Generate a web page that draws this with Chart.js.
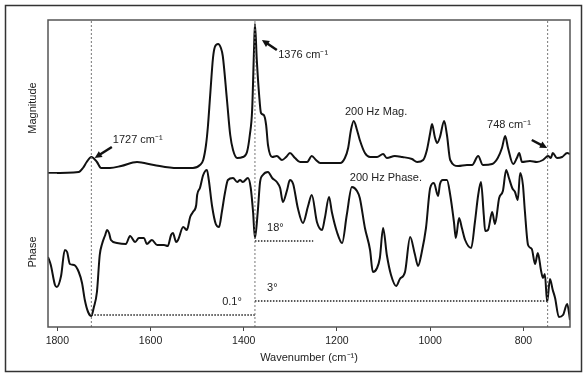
<!DOCTYPE html>
<html>
<head>
<meta charset="utf-8">
<title>200 Hz magnitude and phase spectra</title>
<script src="https://cdn.jsdelivr.net/npm/chart.js@4.4.0/dist/chart.umd.min.js"></script>
<style>
  html, body { margin: 0; padding: 0; background: #fff; }
  #wrap { position: relative; width: 587px; height: 375px; }
</style>
</head>
<body>
<div id="wrap"><canvas id="spectrumChart"></canvas></div>
<script>
// Values (y is in arbitrary units, no scale shown)
const magWavenumbers = [1820,1754,1745,1737,1727,1715,1706,1687,1663,1629,
    1593,1543,1509,1494,1487,1481,1477,1472,1466,1462,
    1455,1449,1445,1436,1429,1423,1414,1402,1393,1387,
    1382,1378,1376,1372,1367,1363,1357,1352,1348,1339,
    1329,1318,1309,1301,1290,1279,1264,1254,1245,1236,
    1193,1183,1176,1170,1164,1157,1151,1140,1129,1114,
    1101,1093,1076,1060,1039,1028,1015,1007,1000,996,
    990,985,979,970,964,957,940,921,910,897,
    887,867,855,846,839,833,822,814,809,803,
    786,771,758,747,741,737,728,717,706,700];
const magValues = [154,155,159,165,170,165,159,159,161,165,
    162,159,159,162,167,182,200,232,269,280,
    283,279,271,227,192,177,169,170,175,192,
    217,277,303,267,232,214,212,202,182,170,
    171,167,170,174,169,165,165,171,167,164,
    164,169,179,197,206,197,187,174,170,170,
    173,169,171,170,168,165,167,177,194,203,
    190,184,190,206,192,167,161,162,162,171,
    162,163,169,179,191,179,163,169,174,165,
    166,165,167,171,169,174,169,170,174,173];

const phaseWavenumbers = [1820,1814,1805,1801,1792,1784,1779,1773,1764,1754,
    1747,1741,1734,1727,1722,1715,1709,1704,1698,1693,
    1689,1685,1672,1653,1644,1633,1625,1614,1608,1597,
    1586,1571,1563,1556,1552,1545,1541,1530,1522,1515,
    1509,1502,1500,1494,1487,1479,1475,1468,1460,1453,
    1447,1440,1434,1423,1414,1408,1402,1391,1385,1380,
    1376,1370,1365,1359,1348,1339,1329,1322,1316,1307,
    1301,1294,1284,1273,1262,1254,1243,1232,1226,1217,
    1211,1200,1189,1179,1168,1157,1151,1140,1129,1123,
    1114,1108,1101,1093,1084,1073,1065,1054,1043,1033,
    1026,1018,1009,1000,992,983,979,973,964,957,
    949,945,938,932,925,912,904,897,891,885,
    882,876,867,861,852,844,837,831,824,818,
    812,807,801,797,790,782,775,769,762,758,
    754,749,743,737,732,724,715,706,700];
const phaseValues = [70,62,42,40,51,77,75,63,62,55,
    44,27,15,11,19,35,72,83,91,97,
    94,87,84,83,91,85,89,89,83,87,
    82,82,81,92,94,85,87,100,97,110,
    115,122,132,139,152,157,147,121,103,100,
    115,135,147,149,145,147,145,149,139,115,
    89,115,145,152,155,149,145,139,125,137,
    147,143,119,104,121,132,105,97,109,130,
    115,95,84,112,140,136,129,99,77,55,
    59,69,99,72,52,41,48,55,90,73,
    61,75,99,139,144,131,143,147,147,132,
    105,89,109,99,87,79,105,132,145,112,
    96,97,115,103,129,136,157,149,139,135,
    127,154,142,117,82,78,63,74,56,49,
    53,25,48,37,29,10,12,23,7];

const xTicks = [1800, 1600, 1400, 1200, 1000, 800];
const markerWavenumbers = [1727, 1376, 748];

// phase levels marked with dotted lines
const levelLabels = ['0.1°', '18°', '3°'];
const levelValues = [12, 86, 26];
const levelFrom = [1727, 1376, 1376];
const levelTo = [1376, 1251, 748];

const yMin = 0, yMax = 307;

function toPoints(xs, ys) {
    return xs.map((x, i) => ({ x: x, y: ys[i] }));
}

const datasets = [];

// Dashed vertical marker lines
markerWavenumbers.forEach(function(wn) {
    datasets.push({
        data: [{ x: wn, y: yMin }, { x: wn, y: yMax }],
        borderColor: '#777',
        borderWidth: 1,
        borderDash: [2, 2],
        pointRadius: 0
    });
});

// Dotted phase level lines
levelValues.forEach(function(v, i) {
    datasets.push({
        data: [{ x: levelFrom[i], y: v }, { x: levelTo[i], y: v }],
        borderColor: '#222',
        borderWidth: 1.5,
        borderDash: [1.5, 1.5],
        pointRadius: 0
    });
});

datasets.push({
    label: '200 Hz Mag.',
    data: toPoints(magWavenumbers, magValues),
    borderColor: '#111',
    borderWidth: 2,
    pointRadius: 0,
    cubicInterpolationMode: 'monotone'
});
datasets.push({
    label: '200 Hz Phase.',
    data: toPoints(phaseWavenumbers, phaseValues),
    borderColor: '#111',
    borderWidth: 2,
    pointRadius: 0,
    cubicInterpolationMode: 'monotone'
});

// Text labels and arrows placed in data coordinates
const notes = [
    { text: '1727 cm⁻¹', x: 1681, y: 187, align: 'left' },
    { text: '1376 cm⁻¹', x: 1326, y: 272, align: 'left' },
    { text: '200 Hz Mag.', x: 1116, y: 215, align: 'center' },
    { text: '200 Hz Phase.', x: 1095, y: 149, align: 'center' },
    { text: '748 cm⁻¹', x: 831, y: 202, align: 'center' },
    { text: levelLabels[1], x: 1350, y: 99, align: 'left' },
    { text: levelLabels[2], x: 1350, y: 39, align: 'left' },
    { text: levelLabels[0], x: 1404, y: 25, align: 'right' }
];
const arrows = [
    { from: [1683, 180], to: [1720, 169] },
    { from: [1329, 277], to: [1361, 287] },
    { from: [782, 187], to: [749, 179] }
];
const axisTitles = [
    { text: 'Magnitude', y: 219 },
    { text: 'Phase', y: 75 }
];

const FONT = '"Liberation Sans", Arial, Helvetica, sans-serif';

const decorPlugin = {
    id: 'decor',
    afterDraw: function(chart) {
        const ctx = chart.ctx;
        const xs = chart.scales.x;
        const ys = chart.scales.y;
        const area = chart.chartArea;
        ctx.save();

        // plot border
        ctx.strokeStyle = '#555';
        ctx.lineWidth = 1.5;
        ctx.strokeRect(area.left, area.top, area.right - area.left, area.bottom - area.top);

        // small inward tick on the left axis
        ctx.lineWidth = 1;
        const ty = Math.round(ys.getPixelForValue(magValues[0])) + 0.5;
        ctx.beginPath();
        ctx.moveTo(area.left, ty);
        ctx.lineTo(area.left + 9, ty);
        ctx.stroke();

        // outer frame
        ctx.strokeStyle = '#333';
        ctx.lineWidth = 1.5;
        ctx.strokeRect(5.5, 5.5, chart.width - 11, chart.height - 9);

        ctx.fillStyle = '#222';
        ctx.textBaseline = 'middle';
        ctx.font = '11px ' + FONT;
        notes.forEach(function(n) {
            ctx.textAlign = n.align;
            ctx.fillText(n.text, xs.getPixelForValue(n.x), ys.getPixelForValue(n.y));
        });

        // arrows
        ctx.fillStyle = '#111';
        ctx.strokeStyle = '#111';
        arrows.forEach(function(a) {
            const x1 = xs.getPixelForValue(a.from[0]), y1 = ys.getPixelForValue(a.from[1]);
            const x2 = xs.getPixelForValue(a.to[0]), y2 = ys.getPixelForValue(a.to[1]);
            const ang = Math.atan2(y2 - y1, x2 - x1);
            const head = 8;
            ctx.lineWidth = 2.5;
            ctx.beginPath();
            ctx.moveTo(x1, y1);
            ctx.lineTo(x2 - Math.cos(ang) * head * 0.8, y2 - Math.sin(ang) * head * 0.8);
            ctx.stroke();
            ctx.beginPath();
            ctx.moveTo(x2, y2);
            ctx.lineTo(x2 - head * Math.cos(ang - 0.45), y2 - head * Math.sin(ang - 0.45));
            ctx.lineTo(x2 - head * Math.cos(ang + 0.45), y2 - head * Math.sin(ang + 0.45));
            ctx.closePath();
            ctx.fill();
        });

        // y titles (two parts of one axis)
        ctx.fillStyle = '#222';
        ctx.textAlign = 'center';
        ctx.font = '11px ' + FONT;
        axisTitles.forEach(function(t) {
            ctx.save();
            ctx.translate(area.left - 15, ys.getPixelForValue(t.y));
            ctx.rotate(-Math.PI / 2);
            ctx.fillText(t.text, 0, 0);
            ctx.restore();
        });
        ctx.restore();
    }
};

new Chart(document.getElementById('spectrumChart').getContext('2d'), {
    type: 'line',
    data: { datasets: datasets },
    options: {
        responsive: true,
        maintainAspectRatio: false,
        animation: false,
        layout: { padding: { left: 48, right: 17, top: 20, bottom: 0 } },
        plugins: {
            legend: { display: false },
            tooltip: { enabled: false }
        },
        scales: {
            x: {
                type: 'linear',
                reverse: true,
                min: 700,
                max: 1820,
                afterBuildTicks: function(scale) {
                    scale.ticks = xTicks.map(v => ({ value: v }));
                },
                afterFit: function(scale) {
                    scale.height = 48;
                },
                border: { display: false },
                grid: {
                    drawOnChartArea: false,
                    drawTicks: true,
                    tickLength: 4,
                    color: '#444'
                },
                ticks: {
                    color: '#222',
                    padding: 4,
                    maxRotation: 0,
                    font: { family: FONT, size: 10.5 },
                    callback: function(value) {
                        return String(value);
                    }
                },
                title: {
                    display: true,
                    text: 'Wavenumber (cm⁻¹)',
                    color: '#222',
                    padding: { top: 2, bottom: 10 },
                    font: { family: FONT, size: 11 }
                }
            },
            y: {
                display: false,
                min: yMin,
                max: yMax
            }
        }
    },
    plugins: [decorPlugin]
});
</script>
</body>
</html>
